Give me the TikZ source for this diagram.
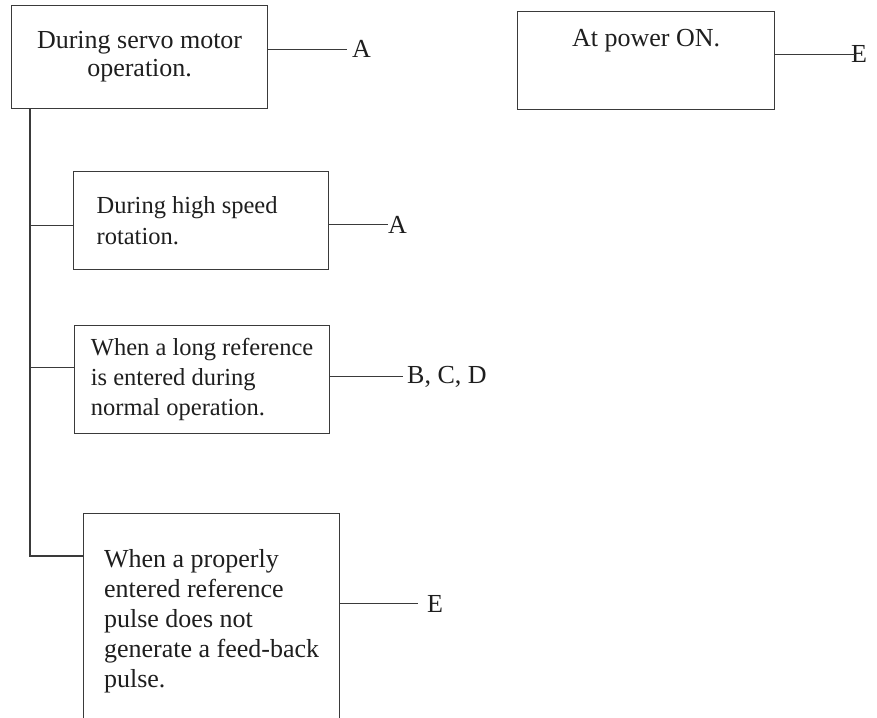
\documentclass[tikz,border=0pt]{standalone}
\usepackage{fontspec}
\setmainfont{Liberation Serif}
\definecolor{inkline}{HTML}{3A3A3A}
\definecolor{inktext}{HTML}{1E1E1E}

\begin{document}
\begin{tikzpicture}[
    x=1pt, y=1pt,
    every node/.style={font=\fontsize{26}{30}\selectfont, text=inktext},
    cause/.style={rectangle, draw=inkline, line width=1.2pt, anchor=north west, inner ysep=0pt},
    tag/.style={anchor=base west, inner sep=0pt},
    wire/.style={draw=inkline, line width=1.2pt},
]

% Page frame
\useasboundingbox (0,0) rectangle (877,-717);

% Main conditions
\node[cause, align=center, minimum width=256pt, minimum height=103pt,
    font=\fontsize{26}{28}\selectfont] (servo) at (11,-5)
    {During servo motor\\operation.};
\node[cause, align=center, minimum width=257pt, text height=35pt, text depth=63pt]
    (poweron) at (517,-11) {At power ON.};

% Sub-cases of servo operation
\node[cause, align=flush left, text width=209pt, inner xsep=23pt, minimum height=98pt,
    font=\fontsize{24.5}{31}\selectfont] (highspeed) at (73,-171)
    {During high speed\\rotation.};
\node[cause, align=flush left, minimum width=255pt, minimum height=108pt,
    font=\fontsize{24.5}{30}\selectfont] (longref) at (74,-325)
    {When a long reference\\is entered during\\normal operation.};
\node[cause, align=flush left, minimum width=256pt, minimum height=216pt] (nofeedback) at (83,-513)
    {When a properly\\entered reference\\pulse does not\\generate a feed-back\\pulse.};

% Result letters
\node[tag] (tagservo) at (352,-58) {A};
\node[tag] (tagpower) at (851,-63) {E};
\node[tag] (taghigh) at (388,-233) {A};
\node[tag] (taglong) at (407,-383) {B, C, D};
\node[tag] (tagfeed) at (427,-612) {E};

% Leaders to the letters
\draw[wire] (servo.east |- tagservo.west) -- ([xshift=-5pt]tagservo.west);
\draw[wire] (poweron.east |- tagpower.west) -- ([xshift=4pt]tagpower.west);
\draw[wire] (highspeed.east |- taghigh.west) -- (taghigh.west);
\draw[wire] (longref.east |- taglong.west) -- ([xshift=-4pt]taglong.west);
\draw[wire] (nofeedback.east |- tagfeed.west) -- ([xshift=-9pt]tagfeed.west);

% Trunk and branches
\coordinate (trunk) at ([xshift=19pt]servo.south west);
\coordinate (highin) at ([yshift=-5pt]highspeed.west);
\coordinate (longin) at ([yshift=12pt]longref.west);
\coordinate (feedin) at ([yshift=-43pt]nofeedback.north west);
\draw[wire] (trunk) |- (feedin);
\draw[wire] (trunk |- highin) -- (highin);
\draw[wire] (trunk |- longin) -- (longin);

\end{tikzpicture}
\end{document}
